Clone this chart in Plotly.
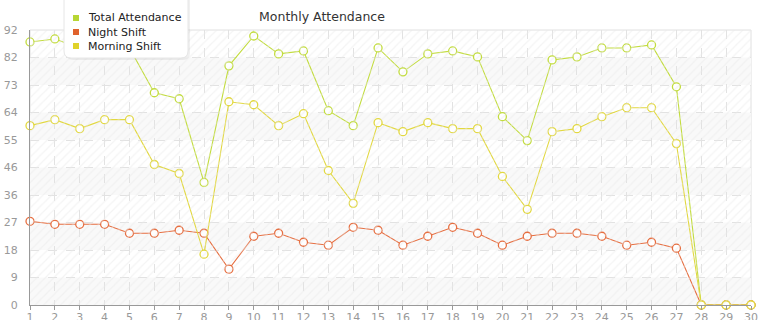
import plotly.graph_objects as go

days = list(range(1, 31))
total_attendance = [88, 89, 86, 89, 86, 71, 69, 41, 80, 90, 84, 85, 65, 60, 86, 78, 84, 85, 83, 63,
                    55, 82, 83, 86, 86, 87, 73, 0, 0, 0]
night_shift = [28, 27, 27, 27, 24, 24, 25, 24, 12, 23, 24, 21, 20, 26, 25, 20, 23, 26, 24, 20,
               23, 24, 24, 23, 20, 21, 19, 0, 0, 0]
morning_shift = [60, 62, 59, 62, 62, 47, 44, 17, 68, 67, 60, 64, 45, 34, 61, 58, 61, 59, 59, 43,
                 32, 58, 59, 63, 66, 66, 54, 0, 0, 0]
y_max = 92
y_tick_vals = [y_max * i / 10 for i in range(11)]
y_tick_text = [str(int(v)) for v in y_tick_vals]

series = [
    ("Total Attendance", total_attendance, "#c2dc3e", "#b7d634"),
    ("Night Shift", night_shift, "#e66e40", "#e0622c"),
    ("Morning Shift", morning_shift, "#e2d840", "#e0d22a"),
]

W, H = 765, 320
L, R, T, B = 30, 14, 30, 15
pw, ph = W - L - R, H - T - B


def px(x):
    return (x - L) / pw


def py(y):
    return (H - B - y) / ph


fig = go.Figure()

# hatch background
fig.add_trace(go.Bar(x=[0.5], y=[1], width=[1], xaxis="x2", yaxis="y2",
                     marker=dict(color="rgba(0,0,0,0)", line=dict(width=0),
                                 pattern=dict(shape="/", fgcolor="#e9e9e9", size=6,
                                              solidity=0.2, fillmode="overlay")),
                     showlegend=False, hoverinfo="skip"))

for name, vals, col, _ in series:
    fig.add_trace(go.Scatter(x=days, y=vals, mode="lines+markers", name=name,
                             line=dict(color=col, width=1.1),
                             marker=dict(size=8, color="white", line=dict(color=col, width=1.3)),
                             cliponaxis=False, showlegend=False))

shapes = []
for i in range(10):
    if i % 2 == 0:
        shapes.append(dict(type="rect", xref="x", yref="y", x0=1, x1=30,
                           y0=y_tick_vals[i], y1=y_tick_vals[i + 1],
                           fillcolor="#f9f9f9", line=dict(width=0), layer="below"))
shapes.append(dict(type="rect", xref="paper", yref="paper", x0=0, x1=1, y0=0, y1=1,
                   line=dict(color="#e0e0e0", width=1), layer="below"))


def rrect(x0, y0, x1, y1, r):
    return (f"M {px(x0 + r)},{py(y0)} L {px(x1 - r)},{py(y0)} "
            f"Q {px(x1)},{py(y0)} {px(x1)},{py(y0 + r)} L {px(x1)},{py(y1 - r)} "
            f"Q {px(x1)},{py(y1)} {px(x1 - r)},{py(y1)} L {px(x0 + r)},{py(y1)} "
            f"Q {px(x0)},{py(y1)} {px(x0)},{py(y1 - r)} L {px(x0)},{py(y0 + r)} "
            f"Q {px(x0)},{py(y0)} {px(x0 + r)},{py(y0)} Z")


shapes.append(dict(type="path", xref="paper", yref="paper", path=rrect(66, -8, 190, 60, 7),
                   fillcolor="rgba(0,0,0,0.06)", line=dict(width=0), layer="above"))
shapes.append(dict(type="path", xref="paper", yref="paper", path=rrect(64, -10, 188, 58, 7),
                   fillcolor="white", line=dict(color="#e6e6e6", width=1), layer="above"))

annotations = []
for k, (name, vals, col, lcol) in enumerate(series):
    cy = 18 + 14 * k
    shapes.append(dict(type="rect", xref="paper", yref="paper",
                       x0=px(73), x1=px(79), y0=py(cy - 3), y1=py(cy + 3),
                       fillcolor=lcol, line=dict(width=0), layer="above"))
    annotations.append(dict(text=name, xref="paper", yref="paper", x=px(86), y=py(cy),
                            xanchor="left", yanchor="middle", showarrow=False,
                            font=dict(family="DejaVu Sans", size=11, color="#222222")))

fig.update_layout(
    width=W, height=H,
    margin=dict(l=L, r=R, t=T, b=B, autoexpand=False),
    paper_bgcolor="white", plot_bgcolor="white",
    font=dict(family="DejaVu Sans", size=11, color="#999999"),
    title=dict(text="Monthly Attendance", x=px(322), xref="paper", xanchor="center",
               y=1 - 17 / H, yanchor="middle", yref="container",
               font=dict(family="DejaVu Sans", size=12.5, color="#333333")),
    xaxis=dict(range=[1, 30], tickvals=days, ticks="outside", ticklen=4, tickcolor="#999999",
               showline=True, linecolor="#999999", linewidth=1, automargin=False,
               showgrid=True, gridcolor="#e2e2e2", griddash="dash", gridwidth=1,
               zeroline=False, ticklabelstandoff=-2, tickfont=dict(size=11, color="#999999")),
    yaxis=dict(range=[0, y_max], tickvals=y_tick_vals, ticktext=y_tick_text, ticks="",
               showline=True, linecolor="#999999", linewidth=1, automargin=False,
               showgrid=True, gridcolor="#e2e2e2", griddash="dash", gridwidth=1,
               zeroline=False, ticklabelstandoff=9, tickfont=dict(size=11, color="#999999")),
    xaxis2=dict(range=[0, 1], overlaying="x", visible=False),
    yaxis2=dict(range=[0, 1], overlaying="y", visible=False),
    bargap=0,
    shapes=shapes,
    annotations=annotations,
    showlegend=False,
)

fig.write_html("out.html")
